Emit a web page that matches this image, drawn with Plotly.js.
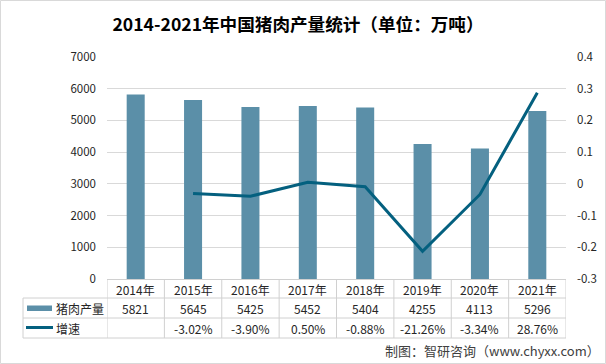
<!DOCTYPE html>
<html>
<head>
<meta charset="utf-8">
<script src="https://cdn.plot.ly/plotly-3.0.1.min.js"></script>
<style>html,body{margin:0;padding:0;background:#fff;}#chart{width:606px;height:364px;}</style>
</head>
<body>
<div id="chart"></div>
<script>
// ---- data ----
var years = ["2014年","2015年","2016年","2017年","2018年","2019年","2020年","2021年"];
var production = [5821,5645,5425,5452,5404,4255,4113,5296];
var growthPct = [null,-3.02,-3.90,0.50,-0.88,-21.26,-3.34,28.76];
var seriesNames = ["猪肉产量","增速"];
var leftTicks = [0,1000,2000,3000,4000,5000,6000,7000];
var rightTicks = [-0.3,-0.2,-0.1,0,0.1,0.2,0.3,0.4];

// ---- geometry helpers (px -> paper) ----
var W = 606, H = 364;
var L = 107, R = 566, T = 57, B = 279;
function px(x){ return (x - L) / (R - L); }
function py(y){ return (B - y) / (B - T); }

var barColor = "#5b8fa8";
var lineColor = "#04607f";
var gridColor = "#d9d9d9";
var tableColor = "#d0d0d0";
var txtColor = "#262626";
var FONT = "'Noto Sans CJK SC', 'Noto Sans', sans-serif";

var growth = growthPct.map(function(v){ return v === null ? null : v / 100; });

var traces = [
  {type:"bar", x: years, y: production, name: seriesNames[0], marker:{color: barColor}, yaxis:"y", hoverinfo:"skip"},
  {type:"scatter", mode:"lines", x: years, y: growth, name: seriesNames[1], line:{color: lineColor, width:3}, yaxis:"y2", connectgaps:false, hoverinfo:"skip"}
];

var shapes = [];
var annotations = [];
// outer border
shapes.push({type:"rect", xref:"paper", yref:"paper", x0: px(0.5), x1: px(W-0.5), y0: py(H-0.5), y1: py(0.5), line:{color:"#d9d9d9", width:1}});

// table rows
var rowCenters = [289, 308, 328];
shapes.push({type:"line", xref:"paper", yref:"paper", x0: px(23), x1: 1, y0: py(298), y1: py(298), line:{color: tableColor, width:1}});
shapes.push({type:"line", xref:"paper", yref:"paper", x0: px(23), x1: 1, y0: py(318), y1: py(318), line:{color: tableColor, width:1}});
shapes.push({type:"line", xref:"paper", yref:"paper", x0: px(23), x1: 1, y0: py(338), y1: py(338), line:{color: tableColor, width:1}});
shapes.push({type:"line", xref:"paper", yref:"paper", x0: px(23), x1: px(23), y0: py(298), y1: py(338), line:{color: tableColor, width:1}});
for (var i = 0; i <= years.length; i++) {
  shapes.push({type:"line", xref:"x", yref:"paper", x0: i - 0.5, x1: i - 0.5, y0: py(279), y1: py(338), line:{color: tableColor, width:1}});
}
// legend swatches
shapes.push({type:"rect", xref:"paper", yref:"paper", x0: px(27), x1: px(52), y0: py(311), y1: py(305.5), fillcolor: barColor, line:{width:0}});
shapes.push({type:"line", xref:"paper", yref:"paper", x0: px(26), x1: px(53), y0: py(327.5), y1: py(327.5), line:{color: lineColor, width:3}});

annotations.push({xref:"paper", yref:"paper", x: px(54), y: py(rowCenters[1]), xanchor:"left", yanchor:"middle", text: seriesNames[0], showarrow:false, font:{family:FONT, size:12, color:txtColor}});
annotations.push({xref:"paper", yref:"paper", x: px(54), y: py(rowCenters[2]), xanchor:"left", yanchor:"middle", text: seriesNames[1], showarrow:false, font:{family:FONT, size:12, color:txtColor}});

for (var j = 0; j < years.length; j++) {
  annotations.push({xref:"x", yref:"paper", x: years[j], y: py(rowCenters[0]), xanchor:"center", yanchor:"middle", text: years[j], showarrow:false, font:{family:FONT, size:12, color:txtColor}});
  annotations.push({xref:"x", yref:"paper", x: years[j], y: py(rowCenters[1]), xanchor:"center", yanchor:"middle", text: String(production[j]), showarrow:false, font:{family:FONT, size:12, color:txtColor}});
  if (growthPct[j] !== null) {
    annotations.push({xref:"x", yref:"paper", x: years[j], y: py(rowCenters[2]), xanchor:"center", yanchor:"middle", text: growthPct[j].toFixed(2) + "%", showarrow:false, font:{family:FONT, size:12, color:txtColor}});
  }
}

// footer
annotations.push({xref:"paper", yref:"paper", x: px(602), y: py(350), xanchor:"right", yanchor:"middle", text:"制图：智研咨询（www.chyxx.com）", showarrow:false, font:{family:FONT, size:13, color:"#404040"}});

var layout = {
  width: W, height: H,
  margin:{l: L, r: W - R, t: T, b: H - B, pad:0},
  paper_bgcolor:"#fff", plot_bgcolor:"#fff",
  showlegend:false,
  bargap: 0.686,
  title:{text:"2014-2021年中国猪肉产量统计（单位：万吨）", x: 298/W, xanchor:"center", y: 1 - 25/H, yanchor:"middle", font:{family:FONT, size:17.6, color:"#000", weight:"bold"}},
  font:{family:FONT, size:11.5, color:txtColor},
  xaxis:{type:"category", showticklabels:false, ticks:"", showgrid:false, showline:true, linecolor:tableColor, linewidth:1, zeroline:false, range:[-0.5, years.length - 0.5], fixedrange:true},
  yaxis:{range:[0,7000], tickvals:leftTicks, showgrid:true, gridcolor:gridColor, gridwidth:1, zeroline:false, showline:false, ticks:"", ticklabelstandoff:10, tickfont:{family:FONT, size:11.5, color:txtColor}},
  yaxis2:{overlaying:"y", side:"right", range:[-0.3,0.4], tickvals:rightTicks, ticktext: rightTicks.map(function(v){return String(v);}), showgrid:false, zeroline:false, showline:false, ticks:"", ticklabelstandoff:10, tickfont:{family:FONT, size:11.5, color:txtColor}},
  shapes: shapes,
  annotations: annotations
};

Plotly.newPlot("chart", traces, layout, {staticPlot:true, displayModeBar:false});
</script>
</body>
</html>
